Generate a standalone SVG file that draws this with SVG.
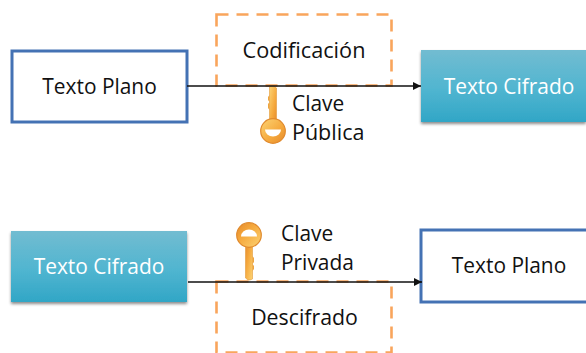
<svg xmlns="http://www.w3.org/2000/svg" width="586" height="353" viewBox="0 0 586 353">
<style>
text{font-family:"Open Sans","Noto Sans","DejaVu Sans",sans-serif;font-size:20.900px;fill:#111}
.c{text-anchor:middle}
.plain{fill:#fff;stroke:#4472b4;stroke-width:3}
.dash{fill:none;stroke:#f9a55c;stroke-width:2.6;stroke-dasharray:12 8}
.line{fill:none;stroke:#111;stroke-width:1.5}
.teal{fill:url(#teal);filter:url(#sh)}
</style>
<defs>
<linearGradient id="teal" x1="0" y1="0" x2="0" y2="1"><stop offset="0" stop-color="#72bcd1"/><stop offset=".55" stop-color="#50b5d0"/><stop offset="1" stop-color="#31a6c6"/></linearGradient>
<linearGradient id="gold" x1="0" y1="0" x2="1" y2="1"><stop offset="0" stop-color="#fcd475"/><stop offset=".6" stop-color="#f5a83c"/><stop offset="1" stop-color="#e58a2c"/></linearGradient>
<filter id="sh" x="-5%" y="-10%" width="110%" height="125%"><feDropShadow dx="0" dy="2" stdDeviation="1.5" flood-color="#000" flood-opacity=".45"/></filter>
<marker id="arr" markerWidth="9" markerHeight="8" refX="8" refY="4" orient="auto" markerUnits="userSpaceOnUse"><path d="M0 0L8 4L0 8z" fill="#111"/></marker>
<g id="keyshape"><path d="M-3.500 -44L-1 -45H1L3.500 -43V-8H-3.500z" fill="url(#gold)" stroke="#e39a3a" stroke-width=".6"/><path d="M-3.500 -36L-5 -34V-31L-3.500 -29L-5 -27V-23L-3.500 -21z" fill="#eea53f"/><circle cx="0" cy="0" r="12.300" fill="url(#gold)" stroke="#e08a2e" stroke-width="1.200"/><path d="M-8 -1.500H8A8 7 0 0 1 -8 -1.500z" fill="#fff"/></g>
</defs>
<g id="plain-top"><rect class="plain" x="12" y="51" width="175" height="71"/><text class="c" x="99.500" y="94">Texto Plano</text></g>
<g id="encode"><rect class="dash" x="216.500" y="14.500" width="175" height="71"/><text class="c" x="304" y="58" style="font-size:21.700px">Codificación</text></g>
<g id="cipher-top"><rect class="teal" x="421" y="50" width="165" height="72"/><text class="c" x="509" y="94" style="fill:#fff">Texto Cifrado</text></g>
<g id="pubkey"><use href="#keyshape" transform="translate(273 131)"/><text x="292" y="111">Clave</text><text x="292" y="140" style="font-size:21.500px">Pública</text></g>
<g id="cipher-bottom"><rect class="teal" x="11" y="231" width="176" height="71"/><text class="c" x="99" y="274" style="fill:#fff">Texto Cifrado</text></g>
<g id="privkey"><use href="#keyshape" transform="translate(249 235) rotate(180)"/><text x="281" y="241">Clave</text><text x="281" y="270">Privada</text></g>
<g id="plain-bottom"><rect class="plain" x="421" y="230" width="175" height="72"/><text class="c" x="509" y="273">Texto Plano</text></g>
<g id="decode"><rect class="dash" x="216.500" y="281.500" width="175" height="71"/><text class="c" x="304.500" y="325" style="font-size:21.300px">Descifrado</text></g>
<g id="connectors"><path class="line" d="M187 86H421" marker-end="url(#arr)"/><path class="line" d="M188 282H422" marker-end="url(#arr)"/></g>
</svg>
